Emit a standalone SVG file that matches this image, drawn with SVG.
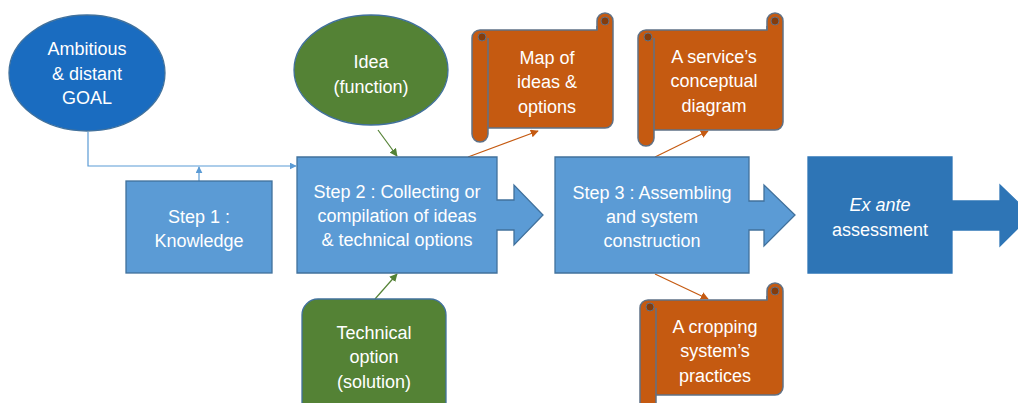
<svg xmlns="http://www.w3.org/2000/svg" width="1018" height="403" viewBox="0 0 1018 403">
<style>
text{font-family:"Liberation Sans",Arial,sans-serif;font-size:18px;fill:#ffffff;text-anchor:middle}
.step{fill:#5b9bd5;stroke:#41719c;stroke-width:1.3}
.dark{fill:#2e75b6;stroke:#2e75b6;stroke-width:1.3}
.goal{fill:#1a6cc0;stroke:#41719c;stroke-width:1.3}
.green{fill:#548235;stroke:#41719c;stroke-width:1.3}
.scroll{fill:#c55a11;stroke:#5f7186;stroke-width:1.5}
.curl{fill:#843c0c;stroke:#5f7186;stroke-width:1}
.inner{fill:none;stroke:#5f7186;stroke-width:1.5}
.cb{fill:none;stroke:#5b9bd5;stroke-width:1.2}
.cg{fill:none;stroke:#548235;stroke-width:1.2}
.co{fill:none;stroke:#c55a11;stroke-width:1.2}
</style>
<defs>
<marker id="ab" viewBox="0 0 10 10" refX="9" refY="5" markerWidth="7" markerHeight="7" orient="auto" markerUnits="userSpaceOnUse"><path d="M0,0 L10,5 L0,10 Z" fill="#5b9bd5"/></marker>
<marker id="ag" viewBox="0 0 10 10" refX="9" refY="5" markerWidth="8" markerHeight="8" orient="auto" markerUnits="userSpaceOnUse"><path d="M0,0 L10,5 L0,10 Z" fill="#548235"/></marker>
<marker id="ao" viewBox="0 0 10 10" refX="9" refY="5" markerWidth="8" markerHeight="8" orient="auto" markerUnits="userSpaceOnUse"><path d="M0,0 L10,5 L0,10 Z" fill="#c55a11"/></marker>
</defs>

<g id="connectors">
<polyline class="cb" points="88,132 88,166 296,166" marker-end="url(#ab)"/>
<line class="cb" x1="199" y1="181" x2="199" y2="167" marker-end="url(#ab)"/>
<line class="cg" x1="378" y1="130" x2="397" y2="156" marker-end="url(#ag)"/>
<line class="cg" x1="375" y1="299" x2="397" y2="274" marker-end="url(#ag)"/>
<line class="co" x1="468" y1="157" x2="538" y2="131" marker-end="url(#ao)"/>
<line class="co" x1="655" y1="157" x2="708" y2="131" marker-end="url(#ao)"/>
<line class="co" x1="655" y1="274" x2="708" y2="299" marker-end="url(#ao)"/>
</g>

<g id="goal">
<ellipse class="goal" cx="87" cy="73" rx="78" ry="58"/>
<text x="87" y="55">Ambitious</text>
<text x="87" y="80">&amp; distant</text>
<text x="87" y="104">GOAL</text>
</g>

<g id="idea">
<ellipse class="green" cx="371" cy="70" rx="77" ry="55"/>
<text x="371" y="68">Idea</text>
<text x="371" y="93">(function)</text>
</g>

<g id="step1">
<rect class="step" x="126" y="181" width="146" height="92"/>
<text x="199" y="223">Step 1 :</text>
<text x="199" y="247">Knowledge</text>
</g>

<g id="step2">
<path class="step" d="M297,157 H497 V200 H514 V185 L543,215 L514,245 V230 H497 V273 H297 Z"/>
<text x="397" y="198">Step 2 : Collecting or</text>
<text x="397" y="222">compilation of ideas</text>
<text x="397" y="246">&amp; technical options</text>
</g>

<g id="step3">
<path class="step" d="M555,157 H749 V201 H764 V185 L795,215 L764,246 V230 H749 V273 H555 Z"/>
<text x="652" y="199">Step 3 : Assembling</text>
<text x="652" y="223">and system</text>
<text x="652" y="247">construction</text>
</g>

<g id="exante">
<path class="dark" d="M808,157 H952 V201 H1000 V185 L1031,215 L1000,246 V230 H952 V273 H808 Z"/>
<text x="880" y="211" font-style="italic">Ex ante</text>
<text x="880" y="236">assessment</text>
</g>

<g id="technical">
<rect class="green" x="302" y="299" width="144" height="130" rx="16"/>
<text x="374" y="339">Technical</text>
<text x="374" y="363">option</text>
<text x="374" y="388">(solution)</text>
</g>

<g id="map">
<path class="scroll" d="M480,30 H597 V21 A8,8 0 0 1 613,21 V120 A8,8 0 0 1 605,128 H488 V134 A8,8 0 0 1 472,134 V38 A8,8 0 0 1 480,30 Z"/>
<path class="inner" d="M488,38 V128 M597,30 V26"/>
<circle class="curl" cx="482" cy="37" r="4"/>
<circle class="curl" cx="605" cy="21" r="4"/>
<text x="547" y="64">Map of</text>
<text x="547" y="88">ideas &amp;</text>
<text x="547" y="113">options</text>
</g>

<g id="service">
<path class="scroll" d="M646,30 H767 V21 A8,8 0 0 1 783,21 V122 A8,8 0 0 1 775,130 H654 V138 A8,8 0 0 1 638,138 V38 A8,8 0 0 1 646,30 Z"/>
<path class="inner" d="M654,38 V130 M767,30 V26"/>
<circle class="curl" cx="648" cy="37" r="4"/>
<circle class="curl" cx="775" cy="21" r="4"/>
<text x="714" y="63">A service’s</text>
<text x="714" y="87">conceptual</text>
<text x="714" y="112">diagram</text>
</g>

<g id="cropping">
<path class="scroll" d="M648,300 H767 V291 A8,8 0 0 1 783,291 V387 A8,8 0 0 1 775,395 H656 V420 H640 V308 A8,8 0 0 1 648,300 Z"/>
<path class="inner" d="M656,308 V395 M767,300 V296"/>
<circle class="curl" cx="650" cy="307" r="4"/>
<circle class="curl" cx="775" cy="291" r="4"/>
<text x="715" y="333">A cropping</text>
<text x="715" y="357">system’s</text>
<text x="715" y="382">practices</text>
</g>
</svg>
